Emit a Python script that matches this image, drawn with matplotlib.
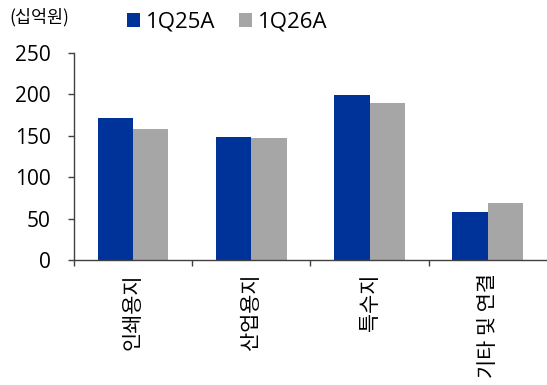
import matplotlib
matplotlib.use('Agg')
import matplotlib.pyplot as plt
import numpy as np

plt.rcParams['font.family'] = ['Open Sans', 'Noto Sans CJK KR', 'DejaVu Sans']

# segment revenue, 십억원
categories = ['인쇄용지', '산업용지', '특수지', '기타 및 연결']
q25 = [172, 149, 199, 58]
q26 = [158, 147, 189, 69]
series_names = ['1Q25A', '1Q26A']
yticks = [0, 50, 100, 150, 200, 250]

blue = '#003399'
gray = '#a6a6a6'
axis_col = '#404040'

fig = plt.figure(figsize=(5.47, 3.85), dpi=100)
ax = fig.add_axes([0.135, 0.3247, 0.865, 0.5377])

x = np.arange(len(categories))
w = 0.3
b1 = ax.bar(x - w / 2, q25, w, color=blue, label=series_names[0])
b2 = ax.bar(x + w / 2, q26, w, color=gray, label=series_names[1])

ax.set_xlim(-0.5, len(categories) - 0.5)
ax.set_ylim(0, 250)
ax.set_yticks(yticks)
ax.tick_params(axis='y', direction='out', length=4.5, width=1, color=axis_col,
               labelsize=15, pad=12)

# category ticks sit on group boundaries, names centred under groups
ax.set_xticks(np.arange(len(categories)) - 0.5)
ax.set_xticklabels([])
ax.tick_params(axis='x', direction='out', length=4, width=1, color=axis_col)
for i, name in enumerate(categories):
    ax.text(i, -16, name, rotation=90, ha='center', va='top', fontsize=15,
            family=['Noto Sans CJK KR', 'DejaVu Sans'],
            transform=ax.transData, clip_on=False)

for side in ['top', 'right']:
    ax.spines[side].set_visible(False)
for side in ['left', 'bottom']:
    ax.spines[side].set_color(axis_col)
    ax.spines[side].set_linewidth(1)

fig.text(0.018, 0.955, '(십억원)', fontsize=12.5, ha='left', va='center',
         family=['Noto Sans CJK KR', 'DejaVu Sans'])
fig.legend(handles=[b1, b2], loc='center left', bbox_to_anchor=(0.232, 0.943),
           ncol=2, frameon=False, fontsize=16, handlelength=0.6,
           handleheight=0.6, handletextpad=0.25, columnspacing=1.05,
           borderaxespad=0, borderpad=0)

fig.savefig('out.png', dpi=100)
